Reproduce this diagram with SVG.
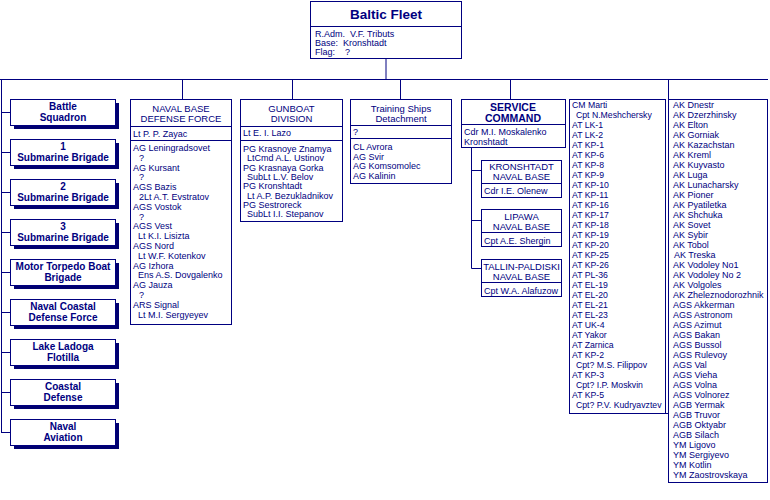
<svg xmlns="http://www.w3.org/2000/svg" width="770" height="500" viewBox="0 0 770 500">
<style>
.bx{fill:#fff;stroke:#000080;stroke-width:1}
.sh{fill:#000070}
.ln{stroke:#000080;stroke-width:1;fill:none}
text{font-family:"Liberation Sans",Arial,sans-serif;fill:#000080}
.t{font-size:9px}
.s{font-size:8.7px}
.h{font-size:9.5px;text-anchor:middle}
.b{font-size:10px;font-weight:bold;text-anchor:middle}
.hb{font-size:10.5px;font-weight:bold;text-anchor:middle}
.ti{font-size:13.5px;font-weight:bold;text-anchor:middle}
.pre{white-space:pre}
</style>
<rect width="770" height="500" fill="#fff"/>
<g id="connectors">
<path class="ln" d="M386 58.5V79.5M0 79.5H768M1.5 79.5V433M182.5 79.5V99M292.5 79.5V99M400.5 79.5V99M510.5 79.5V99M668.5 79.5V99"/>
<path class="ln" d="M1.5 112.5H10M1.5 152.5H10M1.5 192.5H10M1.5 232.5H10M1.5 272.5H10M1.5 312.5H10M1.5 352.5H10M1.5 392.5H10M1.5 432.5H10"/>
<path class="ln" d="M471.5 148V268.5M471.5 170.5H481M471.5 220.5H481M471.5 268.5H481"/>
<path class="ln" d="M665 413.5H668"/>
</g>
<g id="baltic-fleet">
<rect class="bx" x="310.5" y="1.5" width="151" height="57"/>
<line class="ln" x1="310.5" y1="26.5" x2="461.5" y2="26.5"/>
<text class="ti" x="386" y="19">Baltic Fleet</text>
<text class="t pre" x="315" y="37">R.Adm.  V.F. Tributs</text>
<text class="t pre" x="315" y="46">Base:  Kronshtadt</text>
<text class="t pre" x="315" y="55">Flag:    ?</text>
</g>
<g id="battle-squadron">
<rect class="sh" x="14" y="103" width="105" height="26"/><rect class="bx" x="10.5" y="99.5" width="105" height="26"/>
<text class="b" x="63" y="110">Battle</text><text class="b" x="63" y="121">Squadron</text>
</g>
<g id="sub-brigade-1">
<rect class="sh" x="14" y="143" width="105" height="26"/><rect class="bx" x="10.5" y="139.5" width="105" height="26"/>
<text class="b" x="63" y="150">1</text><text class="b" x="63" y="161">Submarine Brigade</text>
</g>
<g id="sub-brigade-2">
<rect class="sh" x="14" y="183" width="105" height="26"/><rect class="bx" x="10.5" y="179.5" width="105" height="26"/>
<text class="b" x="63" y="190">2</text><text class="b" x="63" y="201">Submarine Brigade</text>
</g>
<g id="sub-brigade-3">
<rect class="sh" x="14" y="223" width="105" height="26"/><rect class="bx" x="10.5" y="219.5" width="105" height="26"/>
<text class="b" x="63" y="230">3</text><text class="b" x="63" y="241">Submarine Brigade</text>
</g>
<g id="motor-torpedo">
<rect class="sh" x="14" y="263" width="105" height="26"/><rect class="bx" x="10.5" y="259.5" width="105" height="26"/>
<text class="b" x="63" y="270">Motor Torpedo Boat</text><text class="b" x="63" y="281">Brigade</text>
</g>
<g id="naval-coastal">
<rect class="sh" x="14" y="303" width="105" height="26"/><rect class="bx" x="10.5" y="299.5" width="105" height="26"/>
<text class="b" x="63" y="310">Naval Coastal</text><text class="b" x="63" y="321">Defense Force</text>
</g>
<g id="lake-ladoga">
<rect class="sh" x="14" y="343" width="105" height="26"/><rect class="bx" x="10.5" y="339.5" width="105" height="26"/>
<text class="b" x="63" y="350">Lake Ladoga</text><text class="b" x="63" y="361">Flotilla</text>
</g>
<g id="coastal-defense">
<rect class="sh" x="14" y="383" width="105" height="26"/><rect class="bx" x="10.5" y="379.5" width="105" height="26"/>
<text class="b" x="63" y="390">Coastal</text><text class="b" x="63" y="401">Defense</text>
</g>
<g id="naval-aviation">
<rect class="sh" x="14" y="423" width="105" height="26"/><rect class="bx" x="10.5" y="419.5" width="105" height="26"/>
<text class="b" x="63" y="430">Naval</text><text class="b" x="63" y="441">Aviation</text>
</g>
<g id="naval-base-defense">
<rect class="bx" x="130.5" y="99.5" width="101" height="225"/>
<path class="ln" d="M130.5 126.5H231.5M130.5 140.5H231.5"/>
<text class="h" x="181" y="112">NAVAL BASE</text>
<text class="h" x="181" y="121.5">DEFENSE FORCE</text>
<text class="t" x="133" y="136.5">Lt P. P. Zayac</text>
<text class="t">
<tspan x="133" y="151">AG Leningradsovet</tspan>
<tspan x="139" y="160.8">?</tspan>
<tspan x="133" y="170.6">AG Kursant</tspan>
<tspan x="139" y="180.4">?</tspan>
<tspan x="133" y="190.2">AGS Bazis</tspan>
<tspan x="139" y="200">2Lt A.T. Evstratov</tspan>
<tspan x="133" y="209.8">AGS Vostok</tspan>
<tspan x="139" y="219.6">?</tspan>
<tspan x="133" y="229.4">AGS Vest</tspan>
<tspan x="138" y="239.2">Lt K.I. Lisizta</tspan>
<tspan x="133" y="249">AGS Nord</tspan>
<tspan x="138" y="258.8">Lt W.F. Kotenkov</tspan>
<tspan x="133" y="268.6">AG Izhora</tspan>
<tspan x="138" y="278.4">Ens A.S. Dovgalenko</tspan>
<tspan x="133" y="288.2">AG Jauza</tspan>
<tspan x="139" y="298">?</tspan>
<tspan x="133" y="307.8">ARS Signal</tspan>
<tspan x="138" y="317.6">Lt M.I. Sergyeyev</tspan>
</text>
</g>
<g id="gunboat-division">
<rect class="bx" x="240.5" y="99.5" width="102" height="122"/>
<path class="ln" d="M240.5 126.5H342.5M240.5 140.5H342.5"/>
<text class="h" x="291.5" y="112">GUNBOAT</text>
<text class="h" x="291.5" y="121.5">DIVISION</text>
<text class="t" x="243" y="136">Lt E. I. Lazo</text>
<text class="t">
<tspan x="243" y="152">PG Krasnoye Znamya</tspan>
<tspan x="247" y="161.3">LtCmd A.L. Ustinov</tspan>
<tspan x="243" y="170.6">PG Krasnaya Gorka</tspan>
<tspan x="247" y="179.9">SubLt L.V. Belov</tspan>
<tspan x="243" y="189.2">PG Kronshtadt</tspan>
<tspan x="247" y="198.5">Lt A.P. Bezukladnikov</tspan>
<tspan x="243" y="207.8">PG Sestroreck</tspan>
<tspan x="247" y="217.1">SubLt I.I. Stepanov</tspan>
</text>
</g>
<g id="training-ships">
<rect class="bx" x="350.5" y="99.5" width="101" height="84"/>
<path class="ln" d="M350.5 125.5H451.5M350.5 138.5H451.5"/>
<text class="h" x="401" y="112">Training Ships</text>
<text class="h" x="401" y="121.5">Detachment</text>
<text class="t" x="353" y="134.5">?</text>
<text class="t">
<tspan x="353" y="150">CL  Avrora</tspan>
<tspan x="353" y="159.7">AG Svir</tspan>
<tspan x="353" y="169.4">AG Komsomolec</tspan>
<tspan x="353" y="179.1">AG Kalinin</tspan>
</text>
</g>
<g id="service-command">
<rect class="bx" x="461.5" y="99.5" width="104" height="48"/>
<line class="ln" x1="461.5" y1="124.5" x2="565.5" y2="124.5"/>
<text class="hb" x="513" y="110.5">SERVICE</text>
<text class="hb" x="513" y="121.5">COMMAND</text>
<text class="t" x="464" y="135">Cdr M.I. Moskalenko</text>
<text class="t" x="464" y="144.5">Kronshtadt</text>
</g>
<g id="kronshtadt-base">
<rect class="bx" x="481.5" y="160.5" width="80" height="37"/>
<line class="ln" x1="481.5" y1="183.5" x2="561.5" y2="183.5"/>
<text class="h" x="521.5" y="169.5">KRONSHTADT</text>
<text class="h" x="521.5" y="179.5">NAVAL BASE</text>
<text class="t" x="484" y="194">Cdr  I.E. Olenew</text>
</g>
<g id="lipawa-base">
<rect class="bx" x="481.5" y="209.5" width="80" height="37"/>
<line class="ln" x1="481.5" y1="232.5" x2="561.5" y2="232.5"/>
<text class="h" x="521.5" y="219.5">LIPAWA</text>
<text class="h" x="521.5" y="229.5">NAVAL BASE</text>
<text class="t" x="484" y="243.5">Cpt  A.E. Shergin</text>
</g>
<g id="tallin-base">
<rect class="bx" x="481.5" y="259.5" width="80" height="37"/>
<line class="ln" x1="481.5" y1="282.5" x2="561.5" y2="282.5"/>
<text class="h" x="521.5" y="269.5">TALLIN-PALDISKI</text>
<text class="h" x="521.5" y="279.5">NAVAL BASE</text>
<text class="t" x="484" y="293.5">Cpt  W.A. Alafuzow</text>
</g>
<g id="auxiliary-1">
<rect class="bx" x="569.5" y="99.5" width="96" height="314"/>
<text class="s">
<tspan x="572" y="108">CM Marti</tspan>
<tspan x="576" y="118">Cpt N.Meshchersky</tspan>
<tspan x="572" y="128">AT LK-1</tspan>
<tspan x="572" y="138">AT LK-2</tspan>
<tspan x="572" y="148">AT KP-1</tspan>
<tspan x="572" y="158">AT KP-6</tspan>
<tspan x="572" y="168">AT KP-8</tspan>
<tspan x="572" y="178">AT KP-9</tspan>
<tspan x="572" y="188">AT KP-10</tspan>
<tspan x="572" y="198">AT KP-11</tspan>
<tspan x="572" y="208">AT KP-16</tspan>
<tspan x="572" y="218">AT KP-17</tspan>
<tspan x="572" y="228">AT KP-18</tspan>
<tspan x="572" y="238">AT KP-19</tspan>
<tspan x="572" y="248">AT KP-20</tspan>
<tspan x="572" y="258">AT KP-25</tspan>
<tspan x="572" y="268">AT KP-26</tspan>
<tspan x="572" y="278">AT PL-36</tspan>
<tspan x="572" y="288">AT EL-19</tspan>
<tspan x="572" y="298">AT EL-20</tspan>
<tspan x="572" y="308">AT EL-21</tspan>
<tspan x="572" y="318">AT EL-23</tspan>
<tspan x="572" y="328">AT UK-4</tspan>
<tspan x="572" y="338">AT Yakor</tspan>
<tspan x="572" y="348">AT Zarnica</tspan>
<tspan x="572" y="358">AT KP-2</tspan>
<tspan x="576" y="368">Cpt? M.S. Filippov</tspan>
<tspan x="572" y="378">AT KP-3</tspan>
<tspan x="576" y="388">Cpt? I.P. Moskvin</tspan>
<tspan x="572" y="398">AT KP-5</tspan>
<tspan x="576" y="408">Cpt? P.V. Kudryavztev</tspan>
</text>
</g>
<g id="auxiliary-2">
<rect class="bx" x="668.5" y="99.5" width="99" height="383"/>
<text class="t">
<tspan x="673" y="108">AK Dnestr</tspan>
<tspan x="673" y="118">AK Dzerzhinsky</tspan>
<tspan x="673" y="128">AK Elton</tspan>
<tspan x="673" y="138">AK Gorniak</tspan>
<tspan x="673" y="148">AK Kazachstan</tspan>
<tspan x="673" y="158">AK Kreml</tspan>
<tspan x="673" y="168">AK Kuyvasto</tspan>
<tspan x="673" y="178">AK Luga</tspan>
<tspan x="673" y="188">AK Lunacharsky</tspan>
<tspan x="673" y="198">AK Pioner</tspan>
<tspan x="673" y="208">AK Pyatiletka</tspan>
<tspan x="673" y="218">AK Shchuka</tspan>
<tspan x="673" y="228">AK Sovet</tspan>
<tspan x="673" y="238">AK Sybir</tspan>
<tspan x="673" y="248">AK Tobol</tspan>
<tspan x="674" y="258">AK Treska</tspan>
<tspan x="673" y="268">AK Vodoley No1</tspan>
<tspan x="673" y="278">AK Vodoley No 2</tspan>
<tspan x="673" y="288">AK Volgoles</tspan>
<tspan x="673" y="298">AK Zheleznodorozhnik</tspan>
<tspan x="673" y="308">AGS Akkerman</tspan>
<tspan x="673" y="318">AGS Astronom</tspan>
<tspan x="673" y="328">AGS Azimut</tspan>
<tspan x="673" y="338">AGS Bakan</tspan>
<tspan x="673" y="348">AGS Bussol</tspan>
<tspan x="673" y="358">AGS Rulevoy</tspan>
<tspan x="673" y="368">AGS Val</tspan>
<tspan x="673" y="378">AGS Vieha</tspan>
<tspan x="673" y="388">AGS Volna</tspan>
<tspan x="673" y="398">AGS Volnorez</tspan>
<tspan x="673" y="408">AGB Yermak</tspan>
<tspan x="673" y="418">AGB Truvor</tspan>
<tspan x="673" y="428">AGB Oktyabr</tspan>
<tspan x="673" y="438">AGB Silach</tspan>
<tspan x="673" y="448">YM Ligovo</tspan>
<tspan x="673" y="458">YM Sergiyevo</tspan>
<tspan x="673" y="468">YM Kotlin</tspan>
<tspan x="673" y="478">YM Zaostrovskaya</tspan>
</text>
</g>
</svg>
